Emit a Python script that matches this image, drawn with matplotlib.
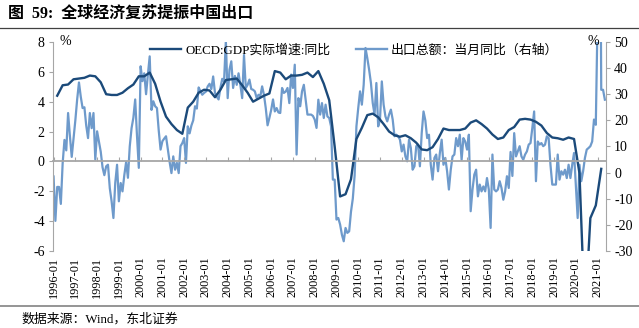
import numpy as np
import matplotlib
matplotlib.use("Agg")
import matplotlib.pyplot as plt
from matplotlib.lines import Line2D

plt.rcParams['font.family'] = ['Liberation Serif', 'Noto Sans CJK SC']
plt.rcParams['axes.unicode_minus'] = False

# OECD GDP real growth, yoy (%), quarterly 1996Q1 - 2021Q1
gdpQuarterly = [
    4.4, 5.1, 5.15, 5.5,      # 1996
    5.55, 5.6, 5.75, 5.7,     # 1997
    5.3, 4.5, 4.45, 4.45,     # 1998
    4.6, 4.9, 5.15, 5.7,      # 1999
    5.7, 5.95, 5.2, 4.0,      # 2000
    3.0, 2.5, 2.1, 1.85,      # 2001
    3.6, 4.0, 4.6, 4.8,       # 2002
    4.75, 4.3, 4.8, 5.45,     # 2003
    5.5, 5.55, 5.1, 4.6,      # 2004
    4.0, 4.2, 4.4, 4.55,      # 2005
    6.05, 5.95, 5.5, 5.75,    # 2006
    5.75, 5.8, 5.95, 5.65,    # 2007
    6.05, 5.2, 4.1, 1.0,      # 2008
    -2.35, -2.2, -1.2, 1.5,   # 2009
    2.25, 3.1, 3.2, 2.95,     # 2010
    2.5, 2.0, 1.75, 1.65,     # 2011
    1.75, 1.55, 1.25, 0.8,    # 2012
    0.75, 0.95, 1.5, 2.2,     # 2013
    2.1, 2.1, 2.1, 2.2,       # 2014
    2.6, 2.75, 2.5, 2.2,      # 2015
    1.8, 1.5, 1.6, 2.1,       # 2016
    2.3, 2.8, 2.85, 2.8,      # 2017
    2.65, 2.4, 1.9, 1.6,      # 2018
    1.55, 1.45, 1.6, 1.5,     # 2019
    -0.8, -10.5, -3.8, -2.95, # 2020
    -0.5,                     # 2021
]

# China exports, monthly yoy (%), 1996-01 - 2021-05
exportMonthly = {
    1996: [-1.5, -18.5, -5.5, -5.5, -12.0, 3.5, 12.5, 8.5, 22.8, 14.0, 6.0, 13.0],
    1997: [20.0, 28.0, 34.5, 29.0, 24.7, 25.0, 18.0, 13.2, 22.8, 17.0, 22.8, 5.0],
    1998: [15.8, 12.0, 8.0, 2.0, -1.0, 2.4, 3.0, -6.0, -11.0, -17.4, -4.0, 3.0],
    1999: [-11.0, -4.0, -7.2, -1.0, 4.0, -2.0, 10.0, 17.0, 21.0, 28.0, 14.0, 1.8],
    2000: [40.7, 35.0, 38.0, 30.0, 37.5, 44.5, 24.0, 27.3, 25.4, 24.7, 16.0, 8.8],
    2001: [12.0, 13.0, 13.9, 8.8, 4.0, -0.2, 6.2, 1.1, 3.7, -0.2, 10.1, 11.3],
    2002: [13.2, 3.7, 17.7, 15.0, 18.0, 20.0, 25.4, 24.5, 32.6, 31.1, 29.8, 30.5],
    2003: [31.0, 33.0, 34.0, 32.0, 36.8, 30.5, 29.0, 28.0, 32.4, 35.9, 34.9, 50.5],
    2004: [28.5, 39.4, 42.6, 32.4, 37.0, 33.6, 38.0, 33.6, 28.5, 45.0, 32.4, 33.6],
    2005: [35.6, 32.0, 31.7, 31.1, 28.5, 29.8, 29.2, 33.0, 29.8, 24.7, 18.1, 20.9],
    2006: [24.0, 28.0, 23.4, 24.7, 23.0, 22.8, 32.4, 30.5, 31.0, 32.4, 26.6, 37.5],
    2007: [32.4, 41.3, 6.9, 28.5, 25.4, 31.1, 33.6, 27.9, 22.2, 22.2, 22.2, 21.7],
    2008: [20.3, 17.1, 27.9, 22.2, 26.6, 20.9, 26.0, 21.5, 20.9, 17.7, -2.7, -2.7],
    2009: [-18.0, -17.4, -19.9, -23.8, -26.3, -21.2, -23.1, -22.5, -15.0, -10.0, -1.2, 17.7],
    2010: [24.7, 31.1, 26.0, 33.6, 47.7, 43.8, 39.4, 34.3, 26.6, 22.2, 34.3, 17.7],
    2011: [20.3, 34.9, 26.0, 21.5, 19.6, 22.2, 24.1, 20.3, 13.9, 14.5, 13.9, 12.6],
    2012: [8.1, 10.7, 6.2, 4.3, 12.6, 9.4, 1.1, 2.4, 10.1, 10.7, 2.4, 15.1],
    2013: [23.4, 20.0, 13.2, 14.5, 3.0, -2.7, 5.6, 6.9, 0.5, 7.5, 12.6, 3.0],
    2014: [5.6, 0.5, -6.5, 1.0, 6.2, 6.9, 13.2, 10.1, 14.5, 4.9, 13.2, 11.9],
    2015: [8.8, 14.5, -14.8, -6.5, -0.8, 1.1, -9.1, -4.6, -7.2, -5.3, -7.2, -2.1],
    2016: [-6.5, -21.2, 6.9, -6.5, -7.2, -6.5, -3.3, -5.9, -10.4, -7.2, -1.4, -5.9],
    2017: [7.9, -1.3, 15.1, 6.2, 8.1, 10.1, 6.2, 4.9, 6.9, 8.1, 10.7, 11.3],
    2018: [17.1, 23.4, -3.3, 11.9, 10.7, 11.3, 10.1, 10.7, 13.9, 13.2, 3.0, -4.6],
    2019: [-4.6, -4.6, 6.9, -2.7, 0.5, -0.8, 1.1, -2.1, 3.0, -2.1, 3.0, 7.5],
    2020: [-4.6, -17.4, 3.0, -3.3, 0.5, 5.6, 8.8, 9.4, 10.1, 11.9, 20.3, 18.3],
    2021: [60.6, 154.9, 31.7, 31.7, 27.9],
}

years = list(range(1996, 2022))
yearLabels = [f"{y}-01" for y in years]

darkBlue = '#1B4A7A'
lightBlue = '#6E9ACB'
axisGray = '#A6A6A6'


def main():
    exports = np.concatenate([exportMonthly[y] for y in years])
    monthIdx = np.arange(len(exports))
    # quarterly points sit on the last month of each quarter
    gdpIdx = np.arange(len(gdpQuarterly)) * 3 + 2

    fig = plt.figure(figsize=(6.39, 3.28), dpi=100)
    ax = fig.add_axes([0.083, 0.235, 0.865, 0.637])
    ax2 = ax.twinx()

    ax2.plot(monthIdx, exports, color=lightBlue, lw=1.6)
    ax.plot(gdpIdx, gdpQuarterly, color=darkBlue, lw=1.7)
    ax.set_zorder(ax2.get_zorder() + 1)
    ax.patch.set_visible(False)

    ax.set_xlim(-0.3, len(exports) - 0.5)
    ax.set_ylim(-6, 8)
    ax.set_yticks(np.arange(-6, 9, 2))
    ax2.set_ylim(-30, 50)
    ax2.set_yticks(np.arange(-30, 51, 10))

    # category axis crosses at zero, labels kept at the bottom
    ax.spines['bottom'].set_position(('data', 0))
    ax.spines['bottom'].set_color(axisGray)
    ax.spines['bottom'].set_linewidth(1.3)
    ax.set_xticks(np.arange(0, len(exports), 12))
    ax.tick_params(axis='x', direction='in', length=3, color=axisGray, labelbottom=False)
    sec = ax.secondary_xaxis(0.0)
    sec.set_xticks(np.arange(0, len(exports), 12))
    sec.set_xticklabels(yearLabels, rotation=90, fontsize=8.8)
    sec.tick_params(length=0, pad=4)
    sec.spines['bottom'].set_visible(False)

    for a in (ax, ax2):
        a.spines['top'].set_visible(False)
    ax.spines['right'].set_visible(False)
    ax2.spines['bottom'].set_visible(False)
    ax2.spines['left'].set_visible(False)
    ax.spines['left'].set_color(axisGray)
    ax2.spines['right'].set_color(axisGray)
    ax.tick_params(axis='y', length=3, color=axisGray, labelsize=10, pad=3)
    ax2.tick_params(axis='y', length=3, color=axisGray, labelsize=10, pad=3)

    ax.text(0.012, 1.0, '%', transform=ax.transAxes, fontsize=10, va='center', ha='left')
    ax2.text(0.988, 1.0, '%', transform=ax2.transAxes, fontsize=10, va='center', ha='right')

    handles = [Line2D([], [], color=darkBlue, lw=1.7),
               Line2D([], [], color=lightBlue, lw=1.7)]
    labels = ['OECD:GDP实际增速:同比', '出口总额：当月同比（右轴）']
    leg = ax.legend(handles, labels, loc='upper center', bbox_to_anchor=(0.545, 1.045),
                    ncol=2, frameon=False, fontsize=9.3, handlelength=2.4,
                    handletextpad=0.3, columnspacing=2.0)
    leg.set_zorder(10)

    fig.text(0.012, 0.957, '图  59:  全球经济复苏提振中国出口', fontsize=11.5,
             fontweight='bold', va='center', ha='left')
    fig.add_artist(Line2D([0.0, 1.0], [0.915, 0.915], color='#404040', lw=0.9))
    fig.add_artist(Line2D([0.0, 1.0], [0.067, 0.067], color='#8C8C8C', lw=1.3))
    fig.text(0.034, 0.028, '数据来源：Wind，东北证券', fontsize=9.3, va='center', ha='left')

    fig.savefig('out.png', dpi=100)


if __name__ == '__main__':
    main()
